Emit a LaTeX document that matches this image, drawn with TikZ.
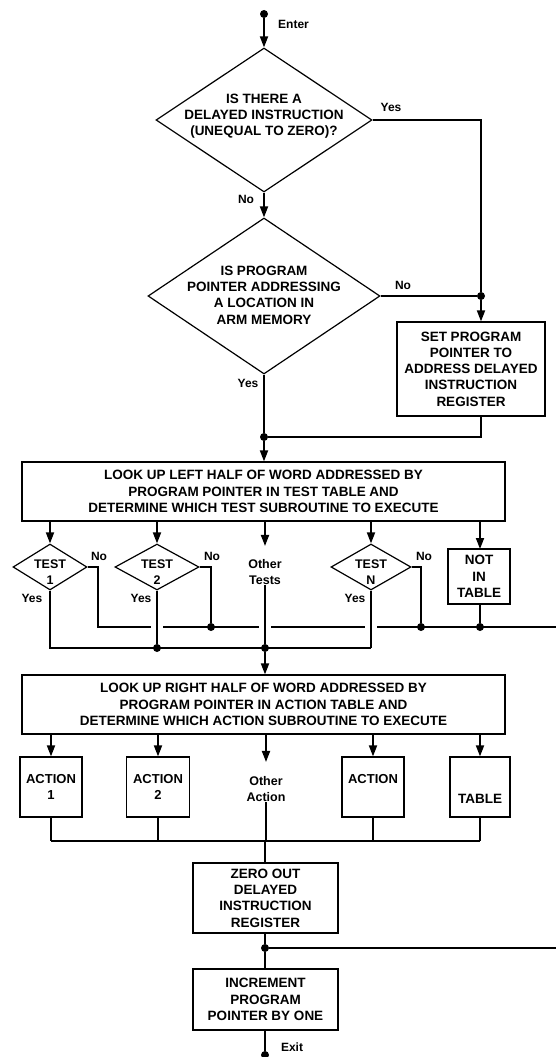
\documentclass[tikz,border=0pt]{standalone}
\usepackage{fontspec}
\setmainfont{Liberation Sans}
\usetikzlibrary{arrows.meta,shapes.geometric}
\begin{document}
\begin{tikzpicture}[x=1pt,y=-1pt,
  conn/.style={line width=1.8pt},
  arr/.style={line width=1.8pt,-{Triangle[length=11pt,width=8pt]}},
  boxs/.style={draw,line width=1.2pt,inner sep=0pt},
  dia/.style={draw,diamond,line width=1.2pt,inner sep=0pt},
  txt/.style={font=\fontsize{13.5}{16.3}\selectfont\bfseries,align=center,inner sep=0pt},
  tsm/.style={font=\fontsize{12.5}{16.5}\selectfont\bfseries,align=center,inner sep=0pt},
  lbl/.style={font=\fontsize{12}{14}\selectfont\bfseries,inner sep=0pt},
  dot/.style={circle,fill,inner sep=0pt,minimum size=8pt},
  halo/.style={preaction={draw=white,line width=12pt,shorten <=25pt,shorten >=8pt}}]
\fill[white] (0,0) rectangle (555,1057);
\useasboundingbox (0,0) rectangle (555,1057);

% entry and decisions
\node[dot] (ent) at (264,14) {};
\node[lbl,anchor=west] (entl) at (278,24) {Enter};
\node[dia,minimum width=216pt,minimum height=144pt] (d1) at (264,120) {};
\node[txt] (d1t) at (264,116) {IS THERE A\\DELAYED INSTRUCTION\\(UNEQUAL TO ZERO)?};
\node[lbl] (d1y) at (391,107) {Yes};
\node[lbl] (d1n) at (246,199) {No};
\node[dia,minimum width=232pt,minimum height=156pt] (d2) at (264,296) {};
\node[txt] (d2t) at (264,295) {IS PROGRAM\\POINTER ADDRESSING\\A LOCATION IN\\ARM MEMORY};
\node[lbl] (d2n) at (403,285) {No};
\node[lbl] (d2y) at (248,383) {Yes};
\node[dot] (j1) at (481,296) {};
\node[boxs,txt,minimum width=148pt,minimum height=94pt] (set) at (471,369) {SET PROGRAM\\POINTER TO\\ADDRESS DELAYED\\INSTRUCTION\\REGISTER};
\node[dot] (j2) at (264,437) {};

\draw[arr] (ent) -- (d1.north);
\draw[arr] (d1.south) -- (d2.north);
\draw[conn] (d1.east) -| (j1);
\draw[conn] (d2.east) -- (j1);
\draw[arr] (j1) -- (j1 |- set.north);
\draw[conn] (d2.south) -- (j2);
\draw[conn] (set.south -| j1) |- (j2);

% test table
\node[boxs,txt,minimum width=483pt,minimum height=59pt] (box1) at (263.5,491.5) {LOOK UP LEFT HALF OF WORD ADDRESSED BY\\PROGRAM POINTER IN TEST TABLE AND\\DETERMINE WHICH TEST SUBROUTINE TO EXECUTE};
\draw[arr] (j2) -- (j2 |- box1.north);

\node[dia,minimum width=74pt,minimum height=46pt] (t1) at (50,567) {};
\node[tsm] (t1t) at (50,572) {TEST\\1};
\node[dia,minimum width=84pt,minimum height=46pt] (t2) at (157,567) {};
\node[tsm] (t2t) at (157,572) {TEST\\2};
\node[tsm] (ot) at (265,572) {Other\\Tests};
\node[dia,minimum width=80pt,minimum height=46pt] (tn) at (371,567) {};
\node[tsm] (tnt) at (371,572) {TEST\\N};
\node[boxs,txt,minimum width=62pt,minimum height=55pt] (nit) at (479,576.5) {NOT\\IN\\TABLE};

\draw[arr] (box1.south -| t1) -- (t1.north);
\draw[arr] (box1.south -| t2) -- (t2.north);
\draw[arr,shorten >=13pt] (box1.south -| ot) -- (ot.north);
\draw[arr] (box1.south -| tn) -- (tn.north);
\draw[arr] (box1.south -| 480,0) -- (480,549);

\node[lbl] (t1n) at (99,556) {No};
\node[lbl] (t2n) at (212,556) {No};
\node[lbl] (tnn) at (424,556) {No};
\node[lbl] (t1y) at (32,598) {Yes};
\node[lbl] (t2y) at (141,598) {Yes};
\node[lbl] (tny) at (355,598) {Yes};

% "No" bus
\coordinate (nb1) at (98,627);
\coordinate (nbR) at (570,627);
\node[dot] (n2) at (211,627) {};
\node[dot] (n3) at (421,627) {};
\node[dot] (n4) at (480,627) {};
\node[dot] (j5) at (265,948) {};
\draw[conn] (t1.east) -| (nb1) -- (nbR) |- (j5);
\draw[conn] (t2.east) -| (n2);
\draw[conn] (tn.east) -| (n3);
\draw[conn] (nit.south -| n4) -- (n4);

% "Yes" bus
\node[dot] (y2) at (157,648) {};
\node[dot] (y3) at (265,648) {};
\coordinate (yc) at (371,648);
\draw[conn,halo] (t2.south) -- (y2);
\draw[conn,halo] (ot.south) -- (y3);
\draw[conn,halo] (tn.south) -- (yc);
\draw[conn] (t1.south) |- (yc);

% action table
\node[boxs,txt,minimum width=483pt,minimum height=59pt] (box2) at (263.5,704.5) {LOOK UP RIGHT HALF OF WORD ADDRESSED BY\\PROGRAM POINTER IN ACTION TABLE AND\\DETERMINE WHICH ACTION SUBROUTINE TO EXECUTE};
\draw[arr] (y3) -- (y3 |- box2.north);

\node[boxs,txt,font=\fontsize{13}{16.5}\selectfont\bfseries,minimum width=62pt,minimum height=60pt] (a1) at (51,787) {ACTION\\1};
\node[boxs,txt,font=\fontsize{13}{16.5}\selectfont\bfseries,minimum width=63pt,minimum height=60pt] (a2) at (158,787) {ACTION\\2};
\node[tsm] (oa) at (266,789) {Other\\Action};
\node[boxs,txt,font=\fontsize{13}{16.5}\selectfont\bfseries,minimum width=62pt,minimum height=60pt] (an) at (373,787) {ACTION\\\mbox{}};
\node[boxs,txt,minimum width=60pt,minimum height=60pt] (tb) at (480,787) {\mbox{}\\\mbox{}\\TABLE};

\draw[arr] (box2.south -| a1) -- (a1.north);
\draw[arr] (box2.south -| a2) -- (a2.north);
\draw[arr,shorten >=14pt] (box2.south -| oa) -- (oa.north);
\draw[arr] (box2.south -| an) -- (an.north);
\draw[arr] (box2.south -| tb) -- (tb.north);

\coordinate (barL) at (51,841);
\coordinate (barR) at (480,841);
\coordinate (barM) at (265,841);
\draw[conn] (a1.south) -- (a1.south |- barL);
\draw[conn] (a2.south) -- (a2.south |- barL);
\draw[conn] (oa.south) -- (oa.south |- barL);
\draw[conn] (an.south) -- (an.south |- barL);
\draw[conn] (tb.south) -- (tb.south |- barL);
\draw[conn] (barL) -- (barR);

% final steps
\node[boxs,txt,minimum width=145pt,minimum height=70pt] (b3) at (265.5,898) {ZERO OUT\\DELAYED\\INSTRUCTION\\REGISTER};
\node[boxs,txt,minimum width=145pt,minimum height=61pt] (b4) at (265.5,999.5) {INCREMENT\\PROGRAM\\POINTER BY ONE};
\node[dot] (ex) at (265,1055) {};
\node[lbl] (exl) at (292,1047) {Exit};
\draw[conn] (barM) -- (barM |- b3.north);
\draw[conn] (b3.south -| j5) -- (j5);
\draw[conn] (j5) -- (j5 |- b4.north);
\draw[conn] (b4.south -| ex) -- (ex);
\end{tikzpicture}
\end{document}
